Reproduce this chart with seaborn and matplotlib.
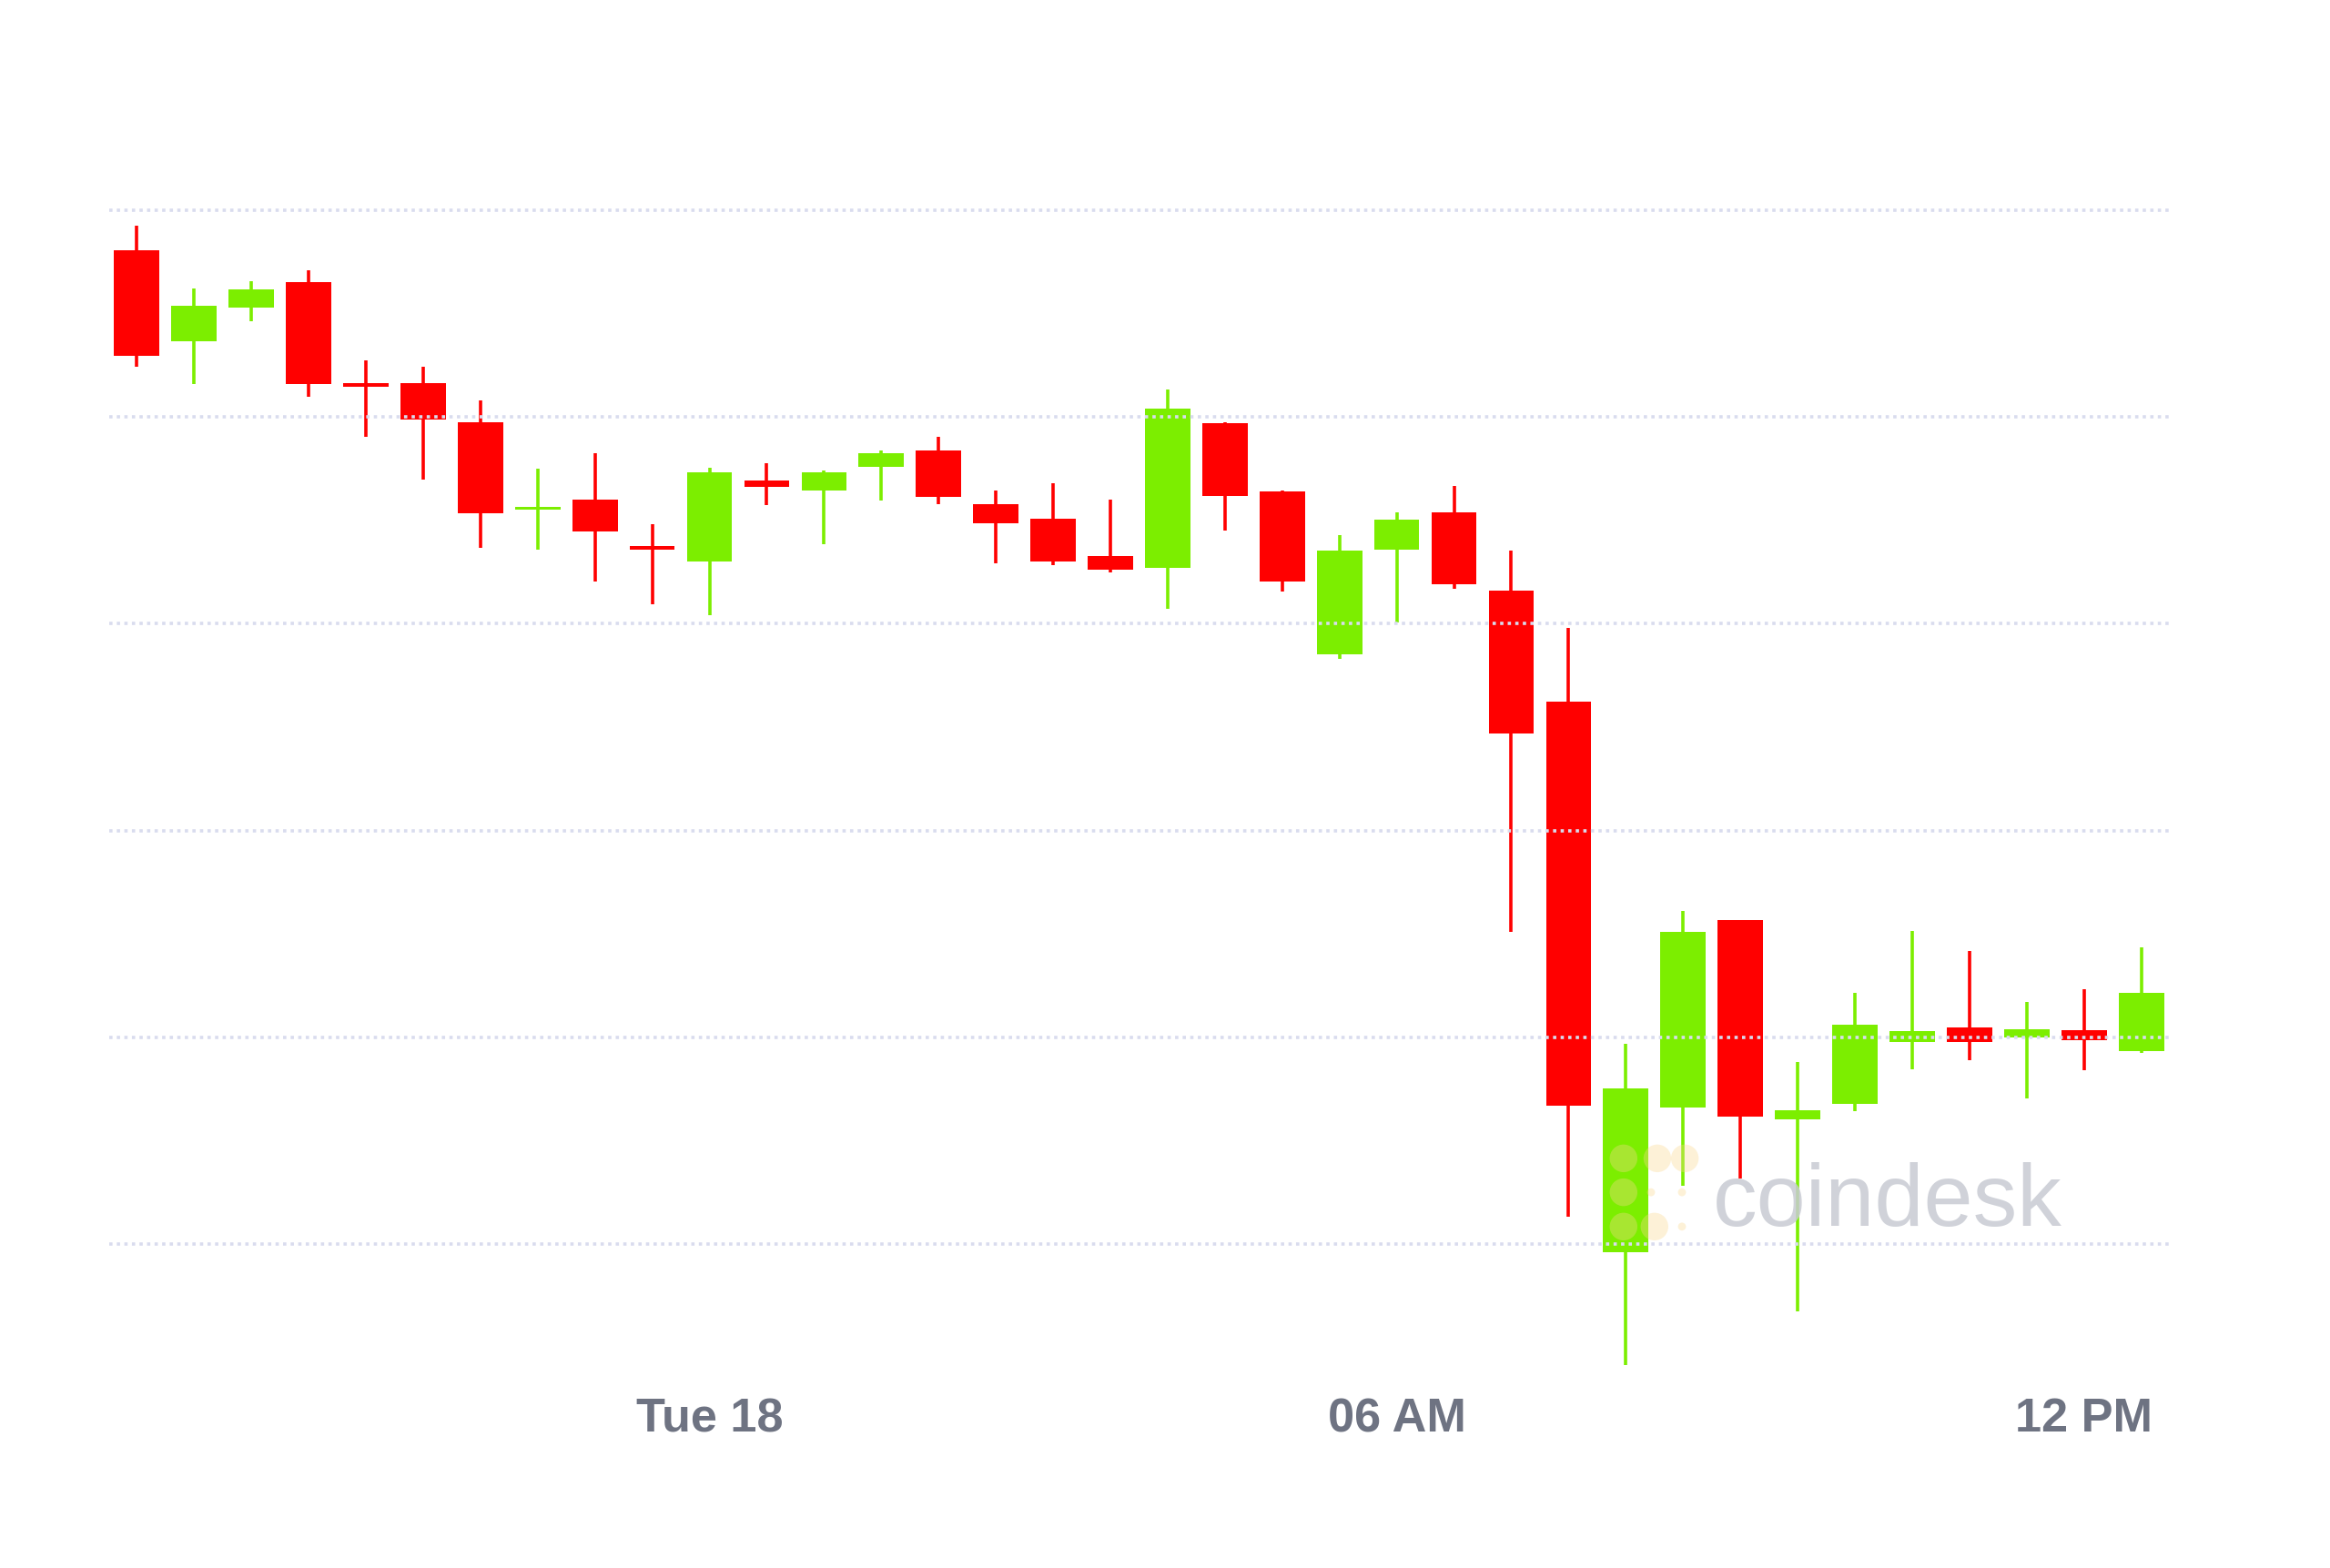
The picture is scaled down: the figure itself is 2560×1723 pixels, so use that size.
##
# Half-hour BTC candles, Mon evening to Tue noon, CoinDesk style
##

import matplotlib.pyplot as plt
import seaborn as sns

# OHLC per 30-minute candle
opens = [44404, 44182, 44264, 44326, 44081, 44081, 43987, 43775, 43801, 43686,
         43650, 43847, 43823, 43880, 43920, 43790, 43753, 43663, 43635, 43986,
         43819, 43425, 43680, 43770, 43581, 43312, 41979, 42329, 42784, 42302,
         42338, 42488, 42523, 42500, 42517, 42467]
highs = [44462, 44310, 44328, 44354, 44136, 44122, 44039, 43874, 43913, 43740,
         43878, 43889, 43870, 43920, 43951, 43821, 43839, 43801, 44066, 43988,
         43821, 43714, 43770, 43834, 43676, 43489, 42485, 42806, 42784, 42440,
         42608, 42757, 42709, 42586, 42617, 42718]
lows = [44122, 44080, 44231, 44048, 43951, 43848, 43683, 43680, 43603, 43546,
        43521, 43786, 43693, 43797, 43788, 43646, 43642, 43624, 43537, 43725,
        43577, 43415, 43502, 43585, 42754, 42066, 41708, 42140, 42159, 41838,
        42321, 42422, 42444, 42353, 42420, 42462]
closes = [44147, 44268, 44309, 44080, 44074, 43993, 43768, 43782, 43722, 43680,
          43867, 43831, 43867, 43913, 43806, 43743, 43651, 43630, 44020, 43809,
          43602, 43676, 43752, 43596, 43234, 42334, 42376, 42755, 42308, 42323,
          42531, 42515, 42489, 42520, 42492, 42608]

tick_pos = [10, 22, 34]
tick_labels = ["Tue 18", "06 AM", "12 PM"]
grid_levels = [42000, 42500, 43000, 43500, 44000, 44500]

# faint logo dots of the watermark (data coords)
logo_x = [25.96, 26.55, 27.03, 25.96, 26.44, 26.98, 25.96, 26.50, 26.98]
logo_y = [42207, 42207, 42207, 42125, 42125, 42125, 42042, 42042, 42042]
logo_s = [120, 120, 120, 120, 10, 10, 120, 120, 10]

UP = "#7cee00"
DOWN = "#ff0000"

sns.set_style("white")
plt.rcParams["font.family"] = ["Liberation Sans", "DejaVu Sans"]

fig = plt.figure(figsize=(12.8, 8.62), dpi=200)
ax = fig.add_axes([0.0469, 0.1143, 0.8844, 0.7775])

x = list(range(len(opens)))
colors = [UP if c >= o else DOWN for o, c in zip(opens, closes)]
bottoms = [min(o, c) for o, c in zip(opens, closes)]
heights = [max(abs(c - o), 7) for o, c in zip(opens, closes)]

ax.vlines(x, lows, highs, colors=colors, linewidth=1.3, zorder=2)
ax.bar(x, heights, bottom=bottoms, width=0.79, color=colors, linewidth=0, zorder=3)

for lvl in grid_levels:
    ax.axhline(lvl, color="#d9dcee", linestyle=(0, (1, 1.3)), linewidth=1.3, zorder=4)

# watermark
ax.scatter(logo_x, logo_y, s=logo_s, color="#fbd98f", alpha=0.35, linewidth=0, zorder=5)
ax.text(27.52, 42047, "coindesk", fontsize=35, color="#c8cbd3", alpha=0.85,
        ha="left", va="baseline", zorder=5)

ax.set_xlim(-0.48, 35.5)
ax.set_ylim(41650, 44600)
ax.set_yticks([])
ax.set_xticks(tick_pos)
ax.set_xticklabels(tick_labels, fontsize=18.8, fontweight="bold", color="#6e7382")
ax.tick_params(axis="x", length=0, pad=3)
for s in ax.spines.values():
    s.set_visible(False)

plt.savefig("out.png", dpi=200, facecolor="white")
